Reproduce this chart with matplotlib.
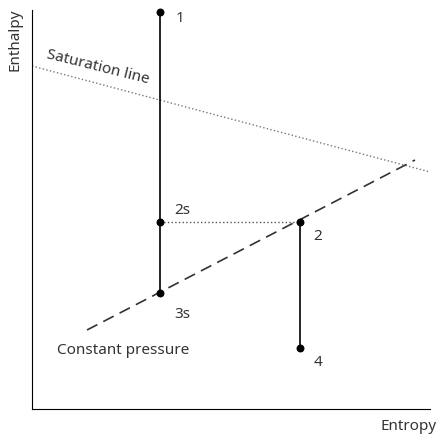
import matplotlib.pyplot as plt

plt.rcParams['font.family'] = ['Noto Sans', 'DejaVu Sans']

# state points (entropy, enthalpy) in arbitrary units
point_names = ['1', '2s', '3s', '2', '4']
point_s = [128, 128, 128, 268, 268]
point_h = [397, 187, 116, 187, 61]

# saturation line and constant pressure line end points
sat_s = [0, 398]
sat_h = [343, 237]
cp_s = [55, 383]
cp_h = [79, 249]

fig = plt.figure(figsize=(4.45, 4.41), dpi=100)
ax = fig.add_axes([32/445, 32/441, 398/445, 399/441])
ax.set_xlim(0, 398)
ax.set_ylim(0, 399)

for side in ['top', 'right']:
    ax.spines[side].set_visible(False)
ax.set_xticks([])
ax.set_yticks([])

ax.plot(sat_s, sat_h, linestyle=':', color='#777777', lw=1)
ax.plot(cp_s, cp_h, linestyle=(0, (7, 4)), color='#333333', lw=1.2)

# expansion lines
ax.plot([point_s[0], point_s[2]], [point_h[0], point_h[2]], color='black', lw=1.2)
ax.plot([point_s[3], point_s[4]], [point_h[3], point_h[4]], color='black', lw=1.2)
ax.plot([point_s[1], point_s[3]], [point_h[1], point_h[3]], linestyle=':', color='#555555', lw=1)

ax.scatter(point_s, point_h, color='black', s=22, zorder=5, clip_on=False)

offsets = {'1': (20, -6), '2s': (22, 12), '3s': (22, -21), '2': (18, -14), '4': (18, -15)}
for name, s, h in zip(point_names, point_s, point_h):
    dx, dy = offsets[name]
    ax.text(s + dx, h + dy, name, fontsize=11, color='#333333', ha='center', va='center')

ax.text(66, 342, 'Saturation line', fontsize=11, color='#333333', rotation=-14,
        ha='center', va='center', rotation_mode='anchor')
ax.text(91, 58, 'Constant pressure', fontsize=11, color='#333333', ha='center', va='center')

fig.text(15/445, 1 - 40/441, 'Enthalpy', fontsize=11, color='#333333', rotation=90,
         ha='center', va='center')
fig.text(409/445, 1 - 426/441, 'Entropy', fontsize=11, color='#333333', ha='center', va='center')

fig.savefig('out.png', dpi=100)
